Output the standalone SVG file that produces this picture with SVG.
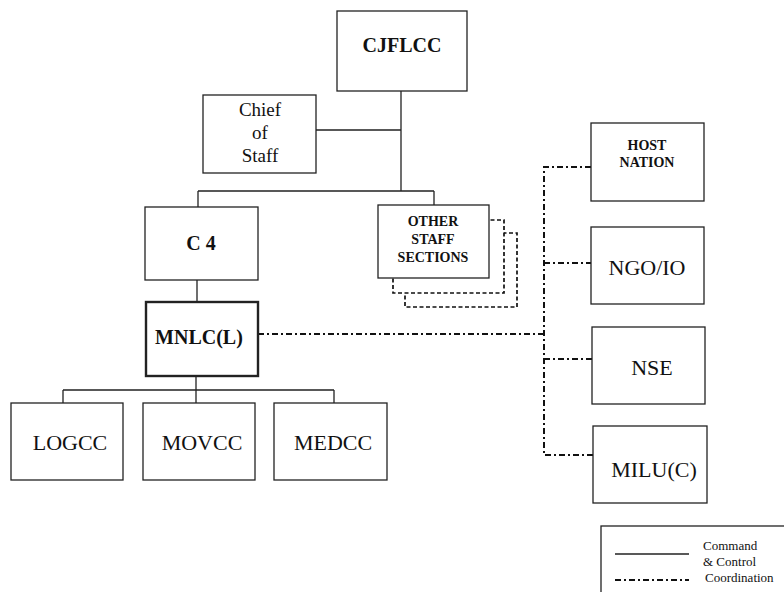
<svg xmlns="http://www.w3.org/2000/svg" width="784" height="592" viewBox="0 0 784 592" font-family="'Liberation Serif', 'DejaVu Serif', serif">
  <style>
    .box { fill: #fff; stroke: #222; stroke-width: 1.3; }
    .thick { stroke-width: 2.4; }
    .shadow { fill: #fff; stroke: #111; stroke-width: 1.7; stroke-dasharray: 4 2.5; }
    .cmd { fill: none; stroke: #222; stroke-width: 1.3; }
    .coord { fill: none; stroke: #111; stroke-width: 2; stroke-dasharray: 6 3 2 3; }
    text { fill: #111; text-anchor: middle; }
    .b { font-weight: bold; }
    .lg { font-size: 13px; text-anchor: start; }
  </style>

  <!-- connectors -->
  <g id="connectors">
    <!-- command & control -->
    <path class="cmd" d="M401 91 V191 M316 130 H401 M198 191 H434 M198 191 V207 M434 191 V205"/>
    <path class="cmd" d="M197 280 V302 M196 376 V403 M63 390 H334 M63 390 V403 M334 390 V403"/>
    <!-- coordination -->
    <path class="coord" d="M258 334 H545"/>
    <path class="coord" d="M591 167 H544 V455 H593"/>
    <path class="coord" d="M544 263 H591 M544 359 H592"/>
  </g>

  <g id="cjflcc">
    <rect class="box" x="337" y="11" width="130" height="80"/>
    <text class="b" x="402" y="52" font-size="20">CJFLCC</text>
  </g>

  <g id="chief-of-staff">
    <rect class="box" x="203" y="95" width="113" height="78"/>
    <text x="260" y="116" font-size="19">Chief</text>
    <text x="260" y="139" font-size="19">of</text>
    <text x="260" y="162" font-size="19">Staff</text>
  </g>

  <g id="c4">
    <rect class="box" x="145" y="207" width="113" height="73"/>
    <text class="b" x="201" y="250" font-size="20">C 4</text>
  </g>

  <g id="other-staff-sections">
    <rect class="shadow" x="405" y="233" width="112" height="74"/>
    <rect class="shadow" x="393" y="220" width="111" height="73"/>
    <rect class="box" x="378" y="205" width="111" height="73"/>
    <text class="b" x="433" y="226" font-size="14">OTHER</text>
    <text class="b" x="433" y="244" font-size="14">STAFF</text>
    <text class="b" x="433" y="262" font-size="14">SECTIONS</text>
  </g>

  <g id="mnlc">
    <rect class="box thick" x="146" y="302" width="112" height="74"/>
    <text class="b" x="199" y="344" font-size="20">MNLC(L)</text>
  </g>

  <g id="logcc">
    <rect class="box" x="11" y="403" width="112" height="77"/>
    <text x="70" y="450" font-size="22">LOGCC</text>
  </g>

  <g id="movcc">
    <rect class="box" x="143" y="403" width="112" height="77"/>
    <text x="202" y="450" font-size="22">MOVCC</text>
  </g>

  <g id="medcc">
    <rect class="box" x="274" y="403" width="113" height="77"/>
    <text x="333" y="450" font-size="22">MEDCC</text>
  </g>

  <g id="host-nation">
    <rect class="box" x="591" y="123" width="113" height="78"/>
    <text class="b" x="647" y="150" font-size="14">HOST</text>
    <text class="b" x="647" y="167" font-size="14">NATION</text>
  </g>

  <g id="ngo-io">
    <rect class="box" x="591" y="227" width="113" height="77"/>
    <text x="647" y="275" font-size="22">NGO/IO</text>
  </g>

  <g id="nse">
    <rect class="box" x="592" y="327" width="113" height="77"/>
    <text x="652" y="375" font-size="22">NSE</text>
  </g>

  <g id="milu">
    <rect class="box" x="593" y="426" width="114" height="77"/>
    <text x="654" y="477" font-size="22">MILU(C)</text>
  </g>

  <!-- legend -->
  <g id="legend">
    <rect class="box" x="601" y="526" width="200" height="80"/>
    <line class="cmd" x1="615" y1="554" x2="689" y2="554"/>
    <line class="coord" x1="615" y1="580" x2="689" y2="580"/>
    <text class="lg" x="703" y="550">Command</text>
    <text class="lg" x="703" y="566">&amp; Control</text>
    <text class="lg" x="705" y="582">Coordination</text>
  </g>
</svg>
